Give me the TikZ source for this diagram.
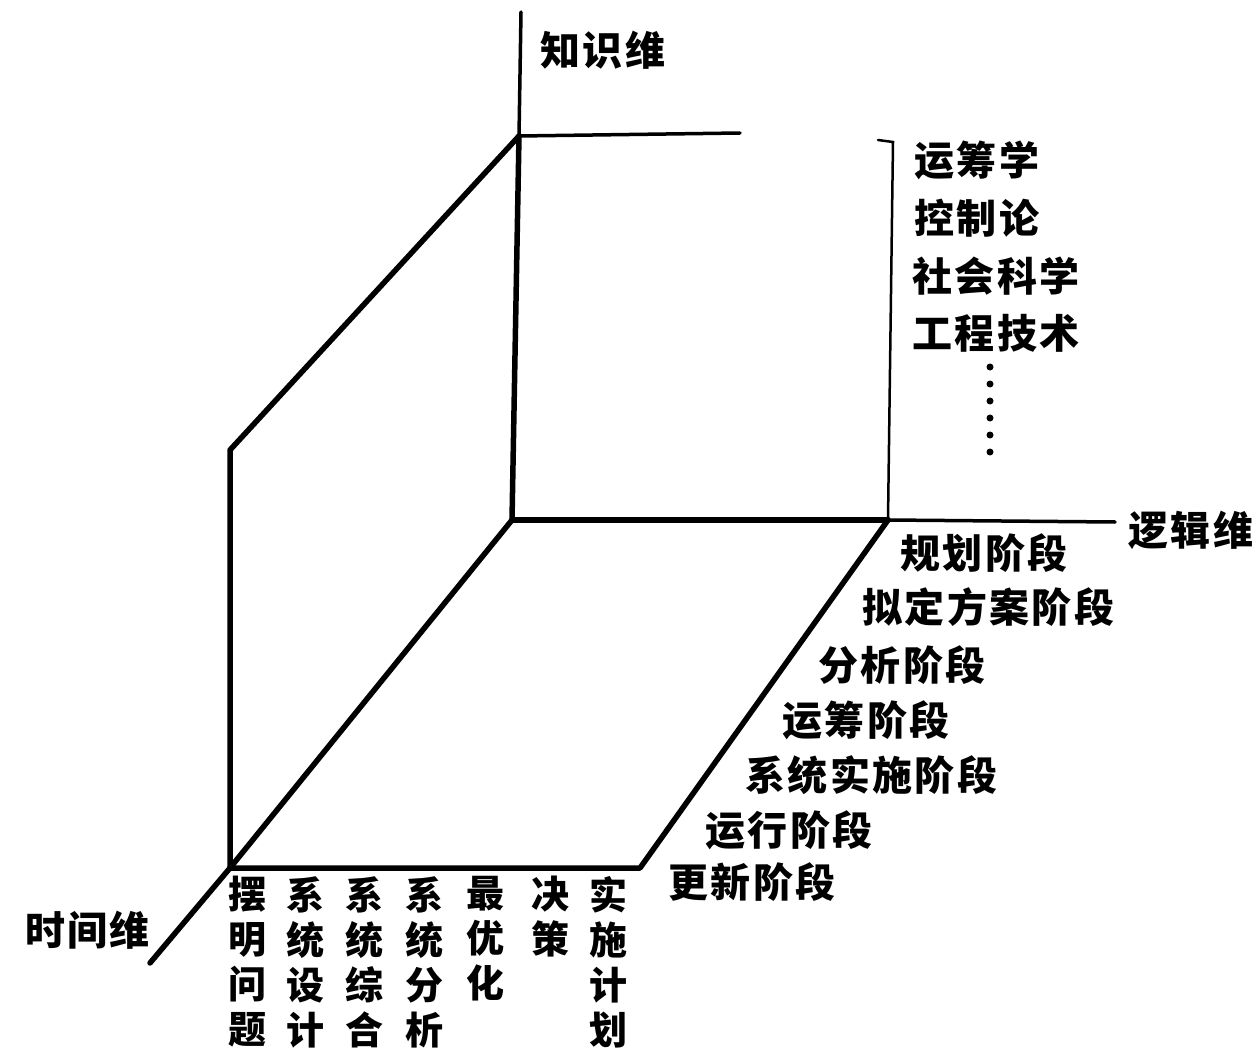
\documentclass[tikz,border=0pt]{standalone}
\usepackage{fontspec}
\setmainfont{Noto Sans CJK SC}
\begin{document}
\begin{tikzpicture}[x=1pt,y=-1pt,
  thick line/.style={line width=5.5pt,line cap=round,line join=round},
  axis line/.style={line width=3.5pt,line cap=round},
  thin line/.style={line width=2.5pt,line cap=round},
  lab/.style={inner sep=0pt,font=\bfseries\fontsize{40}{42}\selectfont\addfontfeature{LetterSpace=6}},
  col/.style={inner sep=0pt,anchor=north,align=center,font=\bfseries\fontsize{38}{45}\selectfont}]
\useasboundingbox (0,0) rectangle (1259,1051);
% key points
\coordinate (K) at (521,12);
\coordinate (T) at (519,136);
\coordinate (Th) at (740,133);
\coordinate (O) at (512,520);
\coordinate (L) at (230,450);
\coordinate (F) at (230,868);
\coordinate (G) at (640,868);
\coordinate (R) at (888,520);
\coordinate (E) at (1115,522);
\coordinate (Tm) at (150,963);
\coordinate (Bt) at (893,142);
\coordinate (Bk) at (878,140);
% axes
\draw[axis line] (K) -- (T);
\draw[thick line] (T) -- (O);
\draw[axis line] (T) -- (Th);
\draw[thick line] (O) -- (R);
\draw[axis line] (R) -- (E);
\draw[thick line] (F) -- (Tm);
% walls and floor
\draw[thick line] (T) -- (L) -- (F) -- (G) -- (R);
\draw[thick line] (O) -- (F);
\draw[thin line] (Bk) -- (Bt) -- (R);
% axis labels
\node[lab,anchor=west] (zsw) at (540,50) {知识维};
\node[lab,anchor=west] (ljw) at (1128,530) {逻辑维};
\node[lab,anchor=west] (sjw) at (25,930) {时间维};
% knowledge list
\node[lab,anchor=west] (k1) at (914,160) {运筹学};
\node[lab,anchor=west] (k2) at (914,218) {控制论};
\node[lab,anchor=west] (k3) at (912,276) {社会科学};
\node[lab,anchor=west] (k4) at (912,333) {工程技术};
\foreach \yy in {367,384,401,418,435,452} \fill (990,\yy) circle (3.5pt);
% stage list
\node[lab,anchor=west] (s1) at (900,553) {规划阶段};
\node[lab,anchor=west] (s2) at (862,607) {拟定方案阶段};
\node[lab,anchor=west] (s3) at (818,665) {分析阶段};
\node[lab,anchor=west] (s4) at (782,720) {运筹阶段};
\node[lab,anchor=west] (s5) at (745,775) {系统实施阶段};
\node[lab,anchor=west] (s6) at (705,830) {运行阶段};
\node[lab,anchor=west] (s7) at (668,882) {更新阶段};
% bottom columns
\node[col] (c1) at (247,876) {摆\\明\\问\\题};
\node[col] (c2) at (305,876) {系\\统\\设\\计};
\node[col] (c3) at (364,876) {系\\统\\综\\合};
\node[col] (c4) at (424,876) {系\\统\\分\\析};
\node[col] (c5) at (485,876) {最\\优\\化};
\node[col] (c6) at (550,876) {决\\策};
\node[col] (c7) at (608,876) {实\\施\\计\\划};
\end{tikzpicture}
\end{document}
